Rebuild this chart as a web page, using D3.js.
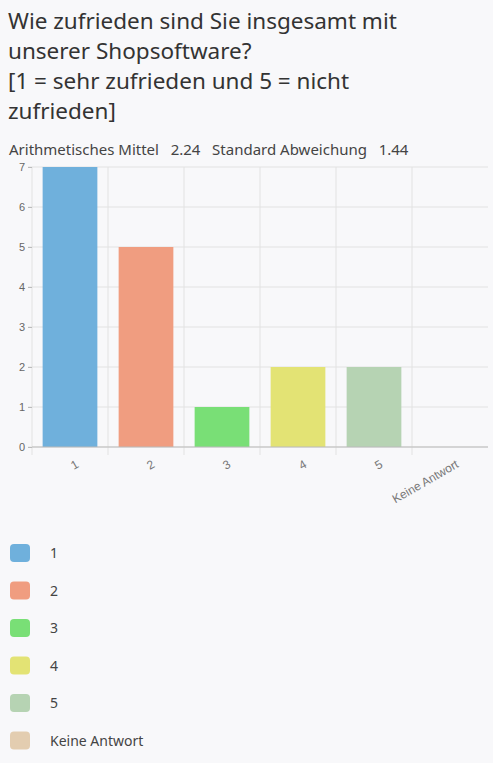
<!DOCTYPE html><html><head><meta charset="utf-8"><script src="https://cdn.jsdelivr.net/npm/d3@7"></script>
<style>body{margin:0;background:#f8f8fa;font-family:"Noto Sans",sans-serif}</style></head><body>
<svg id="c" width="493" height="763"></svg>
<script>
const categories=["1","2","3","4","5","Keine Antwort"];
const values=[7,5,1,2,2,0];
const colors=["#6fb0dc","#f09d80","#79df76","#e3e374","#b6d3b3","#e3cdb0"];
const yTicks=[0,1,2,3,4,5,6,7];
const titleLines=["Wie zufrieden sind Sie insgesamt mit","unserer Shopsoftware?","[1 = sehr zufrieden und 5 = nicht","zufrieden]"];
const svg=d3.select("#c");
svg.append("g").selectAll("text").data(titleLines).join("text")
 .attr("x",8).attr("y",(d,i)=>29+i*30).attr("font-size",22.5).attr("fill","#333").text(d=>d);
svg.append("text").attr("x",9).attr("y",155).attr("font-size",15).attr("fill","#444")
 .attr("xml:space","preserve").text("Arithmetisches Mittel   2.24   Standard Abweichung   1.44");
const x=d3.scaleBand().domain(categories).range([32,488]).paddingInner(0.28).paddingOuter(0.14);
const y=d3.scaleLinear().domain([0,7]).range([447,167]);
const g=svg.append("g");
g.selectAll(".h").data(yTicks).join("line").attr("x1",28).attr("x2",488).attr("y1",d=>y(d)).attr("y2",d=>y(d)).attr("stroke","#e2e2e2");
const bounds=d3.range(categories.length+1).map(i=>32+i*(456/categories.length));
g.selectAll(".v").data(bounds.slice(0,6)).join("line").attr("x1",d=>d).attr("x2",d=>d).attr("y1",167).attr("y2",455).attr("stroke","#e2e2e2");
g.selectAll("rect").data(values).join("rect").attr("x",(d,i)=>x(categories[i])).attr("width",x.bandwidth())
 .attr("y",d=>y(d)).attr("height",d=>447-y(d)).attr("fill",(d,i)=>colors[i]);
const ya=svg.append("g").attr("transform","translate(32,0)").call(d3.axisLeft(y).tickValues(yTicks).tickSize(4).tickFormat(d3.format("d")));
ya.select(".domain").remove();
ya.selectAll("line").attr("stroke","#bbb");
ya.selectAll("text").attr("font-size",11).attr("fill","#666").attr("font-family","Liberation Sans");
svg.append("line").attr("x1",32).attr("x2",488).attr("y1",447).attr("y2",447).attr("stroke","#bbb");
const xa=svg.append("g").attr("transform","translate(0,447)").call(d3.axisBottom(x).tickSize(0));
xa.select(".domain").remove();
xa.selectAll("text").attr("font-size",12).attr("fill","#777").attr("font-family","Liberation Sans")
 .attr("text-anchor","end").attr("dy",0).attr("transform","translate(8,17) rotate(-30)");
const lg=svg.append("g").selectAll("g").data(categories).join("g").attr("transform",(d,i)=>`translate(10,${544+i*37.5})`);
lg.append("rect").attr("width",20).attr("height",18).attr("rx",4).attr("fill",(d,i)=>colors[i]);
lg.append("text").attr("x",40).attr("y",14).attr("font-size",14).attr("fill","#444").text(d=>d);
</script></body></html>
